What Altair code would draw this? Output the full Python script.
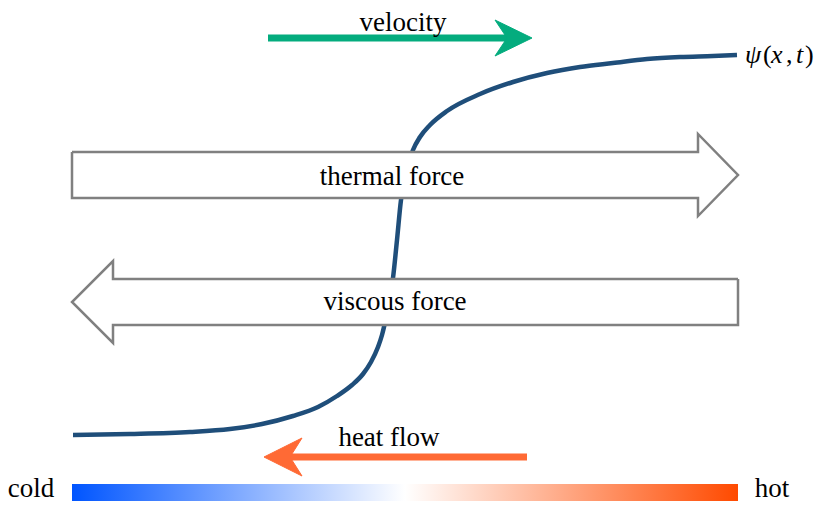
import altair as alt
import pandas as pd

# ---- data (pixel-like diagram coordinates) ----
curve_x = [73, 130, 190, 230, 262, 293, 318, 337, 352, 363, 371, 378, 382, 386, 390, 393, 397, 401, 405, 409, 413, 420, 430, 447, 480, 513, 547, 580, 613, 647, 680, 713, 737]
curve_y = [435, 434, 432, 429, 424, 416, 407, 396, 385, 374, 362, 347, 335, 318, 298, 278, 240, 200, 178, 162, 150, 137, 125, 111, 94, 82, 73, 67, 63, 59, 57, 56, 55]

thermal_x = [72, 698, 698, 738, 698, 698, 72, 72]
thermal_y = [152, 152, 134, 175, 216, 198, 198, 152]
viscous_x = [738, 113, 113, 72, 113, 113, 738, 738]
viscous_y = [279, 279, 261, 302, 343, 325, 325, 279]

vel_shaft_x = [268, 508]
vel_shaft_y = [38, 38]
vel_head_x = [532, 495, 507, 495, 532]
vel_head_y = [38, 20, 38, 56, 38]

heat_shaft_x = [527, 289]
heat_shaft_y = [457, 457]
heat_head_x = [264, 302, 290, 302, 264]
heat_head_y = [457, 438, 457, 476, 457]

bar_x = [72, 738]
bar_y = [484, 501]

label_text = ["velocity", "thermal force", "viscous force", "heat flow", "cold", "hot"]
label_x = [403, 392, 395, 389, 31, 772]
label_y = [31, 185, 310, 446, 497, 497]

psi_text = ["ψ", "(", "x", ",", "t", ")"]
psi_x = [745, 763, 771, 786, 796, 805]
psi_italic = ["italic", "normal", "italic", "normal", "italic", "normal"]
psi_y = 63

W, H = 807, 494
X = alt.Scale(domain=[8, 8 + W], nice=False, zero=False)
Y = alt.Scale(domain=[8, 8 + H], nice=False, zero=False, reverse=True)
SERIF = "Liberation Serif"


def xy(xs, ys):
    return pd.DataFrame({"x": xs, "y": ys, "i": list(range(len(xs)))})


def enc(ch):
    return ch.encode(
        x=alt.X("x:Q", scale=X, axis=None),
        y=alt.Y("y:Q", scale=Y, axis=None),
        order="i:O",
    )


curve = enc(alt.Chart(xy(curve_x, curve_y)).mark_line(
    color="#1f4e7a", strokeWidth=4.5, interpolate="monotone"))

thermal = enc(alt.Chart(xy(thermal_x, thermal_y)).mark_line(
    fill="white", stroke="#808080", strokeWidth=2.5, strokeJoin="miter"))
viscous = enc(alt.Chart(xy(viscous_x, viscous_y)).mark_line(
    fill="white", stroke="#808080", strokeWidth=2.5, strokeJoin="miter"))

green = "#04ac7e"
orange = "#ff6a35"
vel_shaft = enc(alt.Chart(xy(vel_shaft_x, vel_shaft_y)).mark_line(color=green, strokeWidth=7))
vel_head = enc(alt.Chart(xy(vel_head_x, vel_head_y)).mark_line(fill=green, stroke=green, strokeWidth=1))
heat_shaft = enc(alt.Chart(xy(heat_shaft_x, heat_shaft_y)).mark_line(color=orange, strokeWidth=7))
heat_head = enc(alt.Chart(xy(heat_head_x, heat_head_y)).mark_line(fill=orange, stroke=orange, strokeWidth=1))

bar_df = pd.DataFrame({"x": [bar_x[0]], "x2": [bar_x[1]], "y": [bar_y[0]], "y2": [bar_y[1]]})
bar = alt.Chart(bar_df).mark_rect(
    color=alt.Gradient(
        gradient="linear",
        stops=[
            alt.GradientStop(color="#0055ff", offset=0),
            alt.GradientStop(color="#ffffff", offset=0.5),
            alt.GradientStop(color="#ff4a00", offset=1),
        ],
        x1=0, x2=1, y1=0, y2=0,
    )
).encode(
    x=alt.X("x:Q", scale=X, axis=None), x2="x2:Q",
    y=alt.Y("y:Q", scale=Y, axis=None), y2="y2:Q",
)

labels_df = pd.DataFrame({"t": label_text, "x": label_x, "y": label_y})
labels = alt.Chart(labels_df).mark_text(
    font=SERIF, fontSize=27, color="black", align="center", baseline="alphabetic"
).encode(
    x=alt.X("x:Q", scale=X, axis=None),
    y=alt.Y("y:Q", scale=Y, axis=None),
    text="t:N",
)

psi_df = pd.DataFrame({"t": psi_text, "x": psi_x, "y": [psi_y] * len(psi_text), "s": psi_italic})
psi_it = alt.Chart(psi_df[psi_df.s == "italic"]).mark_text(
    font=SERIF, fontSize=26, fontStyle="italic", color="black", align="left", baseline="alphabetic"
).encode(x=alt.X("x:Q", scale=X, axis=None), y=alt.Y("y:Q", scale=Y, axis=None), text="t:N")
psi_up = alt.Chart(psi_df[psi_df.s == "normal"]).mark_text(
    font=SERIF, fontSize=26, color="black", align="left", baseline="alphabetic"
).encode(x=alt.X("x:Q", scale=X, axis=None), y=alt.Y("y:Q", scale=Y, axis=None), text="t:N")

chart = alt.layer(
    curve, thermal, viscous, vel_shaft, vel_head, heat_shaft, heat_head, bar, labels, psi_it, psi_up
).properties(
    width=W, height=H, padding=0, autosize=alt.AutoSizeParams(type="none"), background="white"
).configure_view(stroke=None)

chart.save("out.html", embed_options={"renderer": "svg", "actions": False})
